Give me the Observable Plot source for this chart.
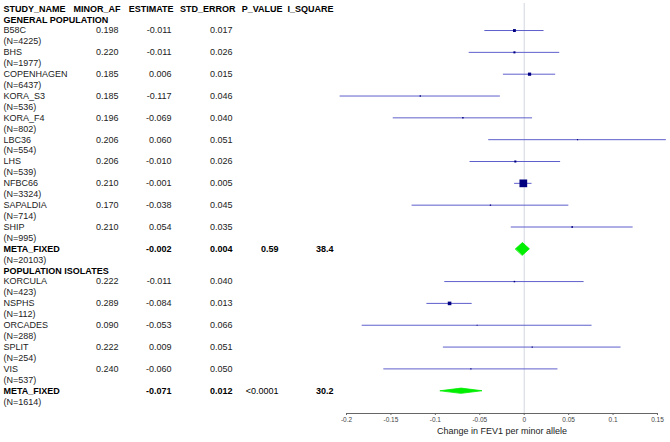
<!DOCTYPE html>
<html><head><meta charset="utf-8">
<script src="https://cdn.jsdelivr.net/npm/d3@7"></script>
<script src="https://cdn.jsdelivr.net/npm/@observablehq/plot@0.6"></script>
<style>body{margin:0;background:#fff} svg{display:block}</style>
</head><body><div id="chart"></div>
<script>
// ---- data ----
const groups = ["GENERAL POPULATION", "POPULATION ISOLATES"];
const studyGroup = [0,0,0,0,0,0,0,0,0,0,1,1,1,1,1];
const studyNames = ["B58C","BHS","COPENHAGEN","KORA_S3","KORA_F4","LBC36","LHS","NFBC66","SAPALDIA","SHIP","KORCULA","NSPHS","ORCADES","SPLIT","VIS"];
const sampleN = [4225,1977,6437,536,802,554,539,3324,714,995,423,112,288,254,537];
const minorAF = ["0.198","0.220","0.185","0.185","0.196","0.206","0.206","0.210","0.170","0.210","0.222","0.289","0.090","0.222","0.240"];
const estimates = [-0.011,-0.011,0.006,-0.117,-0.069,0.060,-0.010,-0.001,-0.038,0.054,-0.011,-0.084,-0.053,0.009,-0.060];
const stdErrors = [0.017,0.026,0.015,0.046,0.040,0.051,0.026,0.005,0.045,0.035,0.040,0.013,0.066,0.051,0.050];
const metaName = "META_FIXED";
const metaN = [20103,1614];
const metaEst = [-0.002,-0.071];
const metaSE = [0.004,0.012];
const metaP = ["0.59","<0.0001"];
const metaI2 = ["38.4","30.2"];
const headers = ["STUDY_NAME","MINOR_AF","ESTIMATE","STD_ERROR","P_VALUE","I_SQUARE"];
const xTicks = [-0.2,-0.15,-0.1,-0.05,0,0.05,0.1,0.15];
const xTickLabels = ["-0.2","-0.15","-0.1","-0.05","0","0.05","0.1","0.15"];
const xLabel = "Change in FEV1 per minor allele";

// ---- layout helpers (text lines) ----
const fmt3 = d3.format(".3f");
const f3 = v => fmt3(v).replace("\u2212","-");
const studyRows = [], metaRows = [], groupRows = [], nRows = [];
let line = 1;
groups.forEach((g, gi) => {
  groupRows.push({text: g, line}); line++;
  studyNames.forEach((s, i) => {
    if (studyGroup[i] !== gi) return;
    studyRows.push({name: s, maf: minorAF[i], est: estimates[i], se: stdErrors[i], line});
    nRows.push({text: `(N=${sampleN[i]})`, line: line + 1});
    line += 2;
  });
  metaRows.push({name: metaName, est: metaEst[gi], se: metaSE[gi], p: metaP[gi], i2: metaI2[gi], line, g: gi});
  nRows.push({text: `(N=${metaN[gi]})`, line: line + 1});
  line += 2;
});
const nLines = line - 1;

const W = 670, H = 442, ML = 346, MR = 13, MT = 3, MB = 29;
const y0 = 8.2, lineH = 10.915;
const font = "Liberation Sans, Arial, sans-serif";
const FS = 9;
const headerRight = [null, 120, 173, 235, 282, 333];
const valueRight = [null, 118, 171, 232, 278, 333];
const dxOf = px => px - ML;

const wMax = d3.max(studyRows, d => 1 / d.se ** 2);
const metaWMax = d3.max(metaRows, d => 1 / d.se ** 2);
const diamondPts = metaRows.flatMap(d => {
  const lo = d.est - 1.96 * d.se, hi = d.est + 1.96 * d.se;
  const h = 6.3 * Math.pow((1 / d.se ** 2) / metaWMax, 0.4) / lineH;
  return [
    {g: d.g, x: lo, y: d.line},
    {g: d.g, x: d.est, y: d.line - h},
    {g: d.g, x: hi, y: d.line},
    {g: d.g, x: d.est, y: d.line + h}
  ];
});

const txt = (data, opts) => Plot.text(data, {frameAnchor: "left", fontFamily: font, fontSize: FS, fill: "#222", ...opts});

const marks = [
  Plot.ruleX([0], {stroke: "#d4d6e2", strokeWidth: 1}),
  Plot.frame({anchor: "bottom", stroke: "#666"}),
  Plot.axisX({ticks: xTicks, tickFormat: (d, i) => xTickLabels[xTicks.indexOf(d)], tickSize: 2, tickPadding: 1.5, fontSize: 6.5, fontFamily: font, stroke: "#666", fill: "#444", label: null}),
  Plot.text([xLabel], {text: d => d, frameAnchor: "bottom", dy: 20, fontFamily: font, fontSize: FS, fill: "#222"}),
  // header
  ...headers.map((h, i) => txt([h], {y: () => 0, text: d => d, fontWeight: "bold", fill: "#000",
      textAnchor: i === 0 ? "start" : "end", dx: dxOf(i === 0 ? 3 : headerRight[i])})),
  txt(groupRows, {y: "line", text: "text", fontWeight: "bold", fill: "#000", textAnchor: "start", dx: dxOf(3)}),
  txt(studyRows, {y: "line", text: "name", textAnchor: "start", dx: dxOf(3)}),
  txt(nRows, {y: "line", text: "text", textAnchor: "start", dx: dxOf(3)}),
  txt(studyRows, {y: "line", text: "maf", textAnchor: "end", dx: dxOf(valueRight[1])}),
  txt(studyRows, {y: "line", text: d => f3(d.est), textAnchor: "end", dx: dxOf(valueRight[2])}),
  txt(studyRows, {y: "line", text: d => f3(d.se), textAnchor: "end", dx: dxOf(valueRight[3])}),
  txt(metaRows, {y: "line", text: "name", fontWeight: "bold", fill: "#000", textAnchor: "start", dx: dxOf(3)}),
  txt(metaRows, {y: "line", text: d => f3(d.est), fontWeight: "bold", fill: "#000", textAnchor: "end", dx: dxOf(valueRight[2])}),
  txt(metaRows, {y: "line", text: d => f3(d.se), fontWeight: "bold", fill: "#000", textAnchor: "end", dx: dxOf(valueRight[3])}),
  txt(metaRows.filter(d => !d.p.startsWith("<")), {y: "line", text: "p", fontWeight: "bold", fill: "#000", textAnchor: "end", dx: dxOf(valueRight[4])}),
  txt(metaRows.filter(d => d.p.startsWith("<")), {y: "line", text: "p", fill: "#000", textAnchor: "end", dx: dxOf(valueRight[4])}),
  txt(metaRows, {y: "line", text: "i2", fontWeight: "bold", fill: "#000", textAnchor: "end", dx: dxOf(valueRight[5])}),
  // CIs
  Plot.ruleY(studyRows, {y: "line", x1: d => d.est - 1.96 * d.se, x2: d => d.est + 1.96 * d.se, stroke: "#5f5fcc", strokeWidth: 1}),
  Plot.dot(studyRows, {x: "est", y: "line", r: d => 1 / d.se ** 2, symbol: "square", fill: "#000080", stroke: "none"}),
  Plot.line(diamondPts, {x: "x", y: "y", z: "g", curve: "linear-closed", fill: "#00ee00", stroke: "#00ee00", strokeWidth: 0.8})
];

const chart = Plot.plot({
  width: W, height: H,
  marginLeft: ML, marginRight: MR, marginTop: MT, marginBottom: MB,
  style: {background: "#fff", fontFamily: font},
  x: {domain: [-0.2, 0.15], axis: null},
  y: {type: "linear", domain: [0, nLines], range: [y0, y0 + nLines * lineH], axis: null},
  r: {type: "pow", exponent: 0.4, domain: [0, wMax], range: [0, 4.35]},
  marks
});
document.getElementById("chart").appendChild(chart);
</script>
</body></html>
